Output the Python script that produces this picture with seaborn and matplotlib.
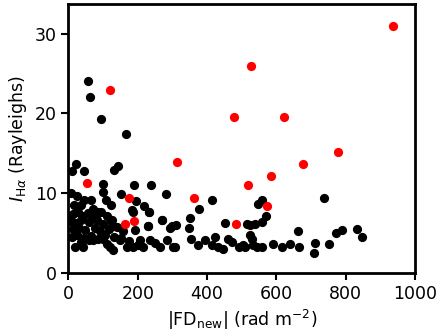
import pandas as pd
import seaborn as sns
from matplotlib import pyplot as plt

# black points: |FD_new| (rad m^-2), I_Halpha (Rayleighs)
black_fd = [57, 62, 93, 167,
            21, 9, 45, 131, 144, 99, 190, 239, 151, 100, 280, 195, 218, 184, 233,
            6, 25, 45, 64, 107, 122, 16, 35, 72, 85,
            187, 233, 192, 230, 269, 298, 126, 128, 229, 270, 293, 311, 347, 350, 377, 413, 452, 514,
            12, 27, 41, 56, 71, 94, 111,
            4, 19, 36, 58, 82, 101, 124,
            14, 31, 49, 76, 91, 116, 139, 158,
            9, 26, 44, 66, 86, 104, 131, 151,
            19, 43, 60, 72, 100, 120, 129, 149, 168, 187, 206, 216, 235, 264, 283, 302,
            35, 110, 175, 200, 250,
            307, 354, 373, 394, 413, 423, 432, 447, 459, 473, 492, 505,
            509, 524, 529, 533, 543, 558, 524, 538, 558, 570, 548, 558, 589, 617, 639, 663, 665,
            738, 771, 788, 833, 846, 751, 712, 708]
black_ha = [24.0, 22.1, 19.3, 17.4,
            13.6, 12.8, 12.8, 12.9, 13.4, 11.1, 11.0, 11.0, 9.9, 10.1, 9.9, 9.0, 8.4, 7.9, 7.7,
            10.0, 9.6, 9.1, 9.1, 9.1, 8.5, 8.5, 8.5, 8.0, 7.6,
            7.7, 7.6, 5.4, 5.9, 6.6, 5.9, 6.6, 5.9, 5.9, 6.6, 5.6, 6.0, 5.6, 6.9, 8.0, 9.2, 6.3, 6.1,
            7.4, 7.6, 7.2, 7.5, 7.3, 7.7, 7.1,
            6.5, 6.3, 6.6, 6.4, 6.7, 6.2, 6.5,
            5.5, 5.7, 5.4, 5.6, 5.3, 5.5, 5.8, 5.2,
            4.5, 4.7, 4.4, 4.6, 4.3, 4.8, 4.5, 4.4,
            3.3, 3.3, 4.1, 4.1, 4.2, 3.3, 2.9, 4.1, 3.3, 3.2, 4.1, 3.3, 4.1, 3.3, 4.1, 3.3,
            3.9, 3.6, 4.0, 3.5, 3.8,
            3.3, 4.2, 3.5, 4.1, 3.5, 4.5, 3.3, 3.0, 4.2, 3.9, 3.3, 3.5,
            3.3, 4.8, 4.2, 3.5, 3.3, 3.3, 6.0, 6.1, 6.4, 7.1, 8.6, 9.1, 3.6, 3.3, 3.6, 5.3, 3.3,
            9.4, 5.0, 5.4, 5.5, 4.5, 3.6, 3.8, 2.5]

# red points
red_fd = [936, 528, 120, 477, 621, 777, 676, 584, 519, 574, 313, 54, 175, 362, 163, 190, 483]
red_ha = [31.0, 25.9, 22.9, 19.5, 19.5, 15.2, 13.7, 12.2, 11.0, 8.4, 13.9, 11.3, 9.4, 9.4, 6.2, 6.5, 6.2]

df_black = pd.DataFrame({"fd": black_fd, "ha": black_ha})
df_red = pd.DataFrame({"fd": red_fd, "ha": red_ha})

sns.set_style("ticks")
plt.rcParams["font.family"] = ["DejaVu Sans"]
plt.rcParams.update({"text.color": "black", "axes.labelcolor": "black",
                     "xtick.color": "black", "ytick.color": "black"})

fig = plt.figure(figsize=(4.41, 3.36), dpi=100)
ax = fig.add_axes([0.1553, 0.1875, 0.7858, 0.8006])

sns.scatterplot(data=df_black, x="fd", y="ha", color="black", s=44,
                linewidth=0, ax=ax)
sns.scatterplot(data=df_red, x="fd", y="ha", color="red", s=44,
                linewidth=0, ax=ax)

ax.set_xlim(0, 1000)
ax.set_ylim(0, 33.7)
ax.set_xticks([0, 200, 400, 600, 800, 1000])
ax.set_yticks([0, 10, 20, 30])
ax.tick_params(labelsize=12.5, width=1.5, length=5, color="black", labelcolor="black")
for sp in ax.spines.values():
    sp.set_linewidth(2)
    sp.set_color("black")

ax.set_xlabel(r"|FD$_{\mathrm{new}}$| (rad m$^{-2}$)", fontsize=12.5)
ax.set_ylabel(r"$I_{\mathrm{H}\alpha}$ (Rayleighs)", fontsize=12.5)

fig.savefig("out.png", dpi=100)
